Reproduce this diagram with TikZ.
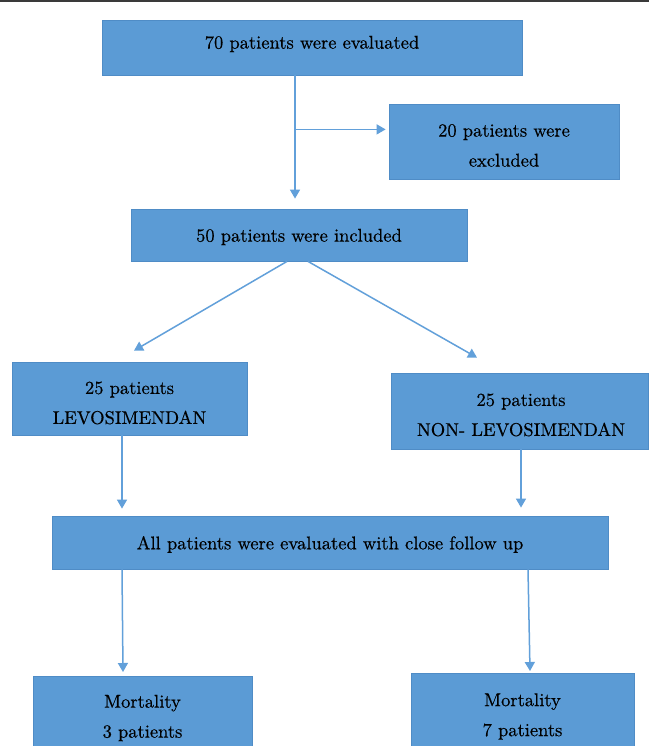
\documentclass[tikz,border=0pt]{standalone}
\usepackage{fontspec}
\newfontfamily\lmr{lmroman10-regular.otf}[FakeBold=0.4]
\usetikzlibrary{arrows.meta,calc}
\definecolor{boxfill}{HTML}{5B9BD5}
\definecolor{boxline}{HTML}{4F8CC6}
\definecolor{arrcol}{HTML}{62A0DA}
\definecolor{topbar}{HTML}{3A3A3A}
\tikzset{
  flowbox/.style={draw=boxline, line width=0.8pt, fill=boxfill, inner sep=0pt},
  boxtext/.style={inner sep=0pt, align=center, text=black, font=\lmr\fontsize{18.5}{30}\selectfont},
  arr/.style={draw=arrcol, line width=1.5pt, -{Triangle[width=10pt,length=9pt]}}
}
\begin{document}
\begin{tikzpicture}[x=1pt,y=-1pt]
\clip (0,0) rectangle (649,746);
\fill[white] (0,0) rectangle (649,746);
\fill[topbar] (0,0) rectangle (649,2.5);
% boxes
\node[flowbox, minimum width=420pt, minimum height=55pt] (b1) at (312,47.5) {};
\node[boxtext] (t1) at (312,44) {70 patients were evaluated};
\node[flowbox, minimum width=230pt, minimum height=75pt] (b2) at (504,141.5) {};
\node[boxtext] (t2) at (504,145.5) {20 patients were\\excluded};
\node[flowbox, minimum width=336pt, minimum height=52pt] (b3) at (299,235) {};
\node[boxtext] (t3) at (299,237) {50 patients were included};
\node[flowbox, minimum width=235pt, minimum height=73pt] (b4) at (129.5,398.5) {};
\node[boxtext] (t4) at (129.5,403) {25 patients\\LEVOSIMENDAN};
\node[flowbox, minimum width=257pt, minimum height=76pt] (b5) at (519.5,411) {};
\node[boxtext] (t5) at (521,415) {25 patients\\NON- LEVOSIMENDAN};
\node[flowbox, minimum width=556pt, minimum height=53pt] (b6) at (330,542.5) {};
\node[boxtext] (t6) at (330,544.5) {All patients were evaluated with close follow up};
\node[flowbox, minimum width=219pt, minimum height=100pt, anchor=north] (b7) at (142.5,676) {};
\node[boxtext] (t7) at (142.5,718) {Mortality\\3 patients};
\node[flowbox, minimum width=223pt, minimum height=100pt, anchor=north] (b8) at (522.5,673) {};
\node[boxtext] (t8) at (522.5,716.5) {Mortality\\7 patients};
% connectors
\draw[arr] ([xshift=-17pt]b1.south) -- ([xshift=-4pt,yshift=10pt]b3.north);
\path ([xshift=-17pt,yshift=-54pt]b1.south) coordinate (j);
\draw[arr, shorten >=3pt] (j) -- (j -| b2.west);
\draw[arr] ([xshift=-12pt]b3.south) -- ([xshift=4.5pt,yshift=11pt]b4.north);
\draw[arr] ([xshift=9pt]b3.south) -- ([xshift=-42.5pt,yshift=15pt]b5.north);
\draw[arr] ([xshift=-7.5pt]b4.south) -- ([xshift=-208pt,yshift=7pt]b6.north);
\draw[arr] ([xshift=1.5pt]b5.south) -- ([xshift=191pt,yshift=8pt]b6.north);
\draw[arr] ([xshift=-208pt]b6.south) -- ([xshift=-19.5pt,yshift=4pt]b7.north);
\draw[arr] ([xshift=198pt]b6.south) -- ([xshift=7.5pt,yshift=2pt]b8.north);
\end{tikzpicture}
\end{document}
